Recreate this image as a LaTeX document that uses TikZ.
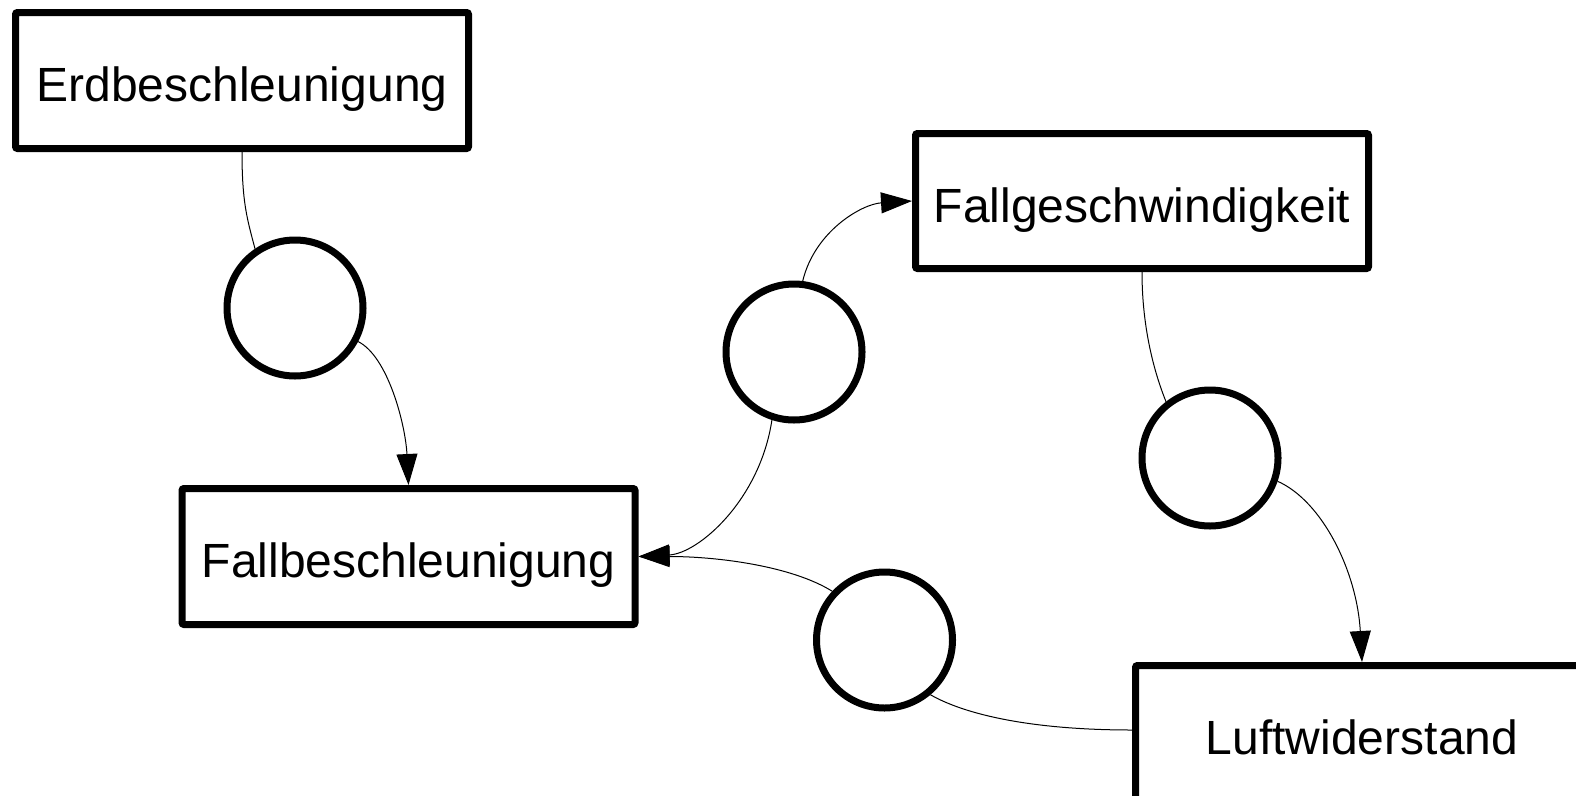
\documentclass[tikz,border=0pt]{standalone}
\usepackage{fontspec}
\setmainfont{Liberation Sans}
\usetikzlibrary{arrows.meta}
\begin{document}
\begin{tikzpicture}[x=1pt,y=-1pt,
  box/.style={draw, line width=7pt, rounded corners=2pt, minimum width=453pt,
    minimum height=136pt, inner sep=0pt, text height=42pt, text depth=0pt,
    font=\fontsize{48}{52}\selectfont},
  ring/.style={draw, circle, line width=7pt, minimum size=136pt, inner sep=0pt},
  link/.style={line width=1pt},
  arr/.style={link, -{Triangle[length=31pt,width=21pt]}}]
\useasboundingbox (0,0) rectangle (1576,795);
\fill[white] (0,0) rectangle (1576,795);
\clip (0,0) rectangle (1576,795);

\node[box] (erd) at (242,80.5) {Erdbeschleunigung};
\node[box] (fallb) at (408.5,556.5) {Fallbeschleunigung};
\node[box, minimum height=135pt] (fallg) at (1142,201) {Fallgeschwindigkeit};
\node[box] (luft) at (1362,733.5) {Luftwiderstand};

\node[ring] (c1) at (295,308) {};
\node[ring] (c2) at (794,352) {};
\node[ring] (c3) at (884.5,640) {};
\node[ring] (c4) at (1210,458) {};

\draw[link] (erd.south) .. controls +(0,50) and +(-8,-30) .. (c1.124);
\draw[arr] (c1.-28) .. controls +(30,15) and +(-3,-60) .. (fallb.north);
\draw[arr] (c2.-108) .. controls +(-12,80) and +(60,-3) .. (fallb.east);
\draw[arr] (c3.137) .. controls +(-40,-25) and +(80,0) .. (fallb.east);
\draw[arr] (c2.83) .. controls +(12,-50) and +(-50,3) .. (fallg.west);
\draw[link] (fallg.south) .. controls +(0,60) and +(-10,-25) .. (c4.128);
\draw[arr] (c4.-19) .. controls +(45,20) and +(-5,-90) .. (luft.north);
\draw[link] ([yshift=3.5pt]luft.west) .. controls +(-100,0) and +(35,20) .. (c3.-50);
\end{tikzpicture}
\end{document}
